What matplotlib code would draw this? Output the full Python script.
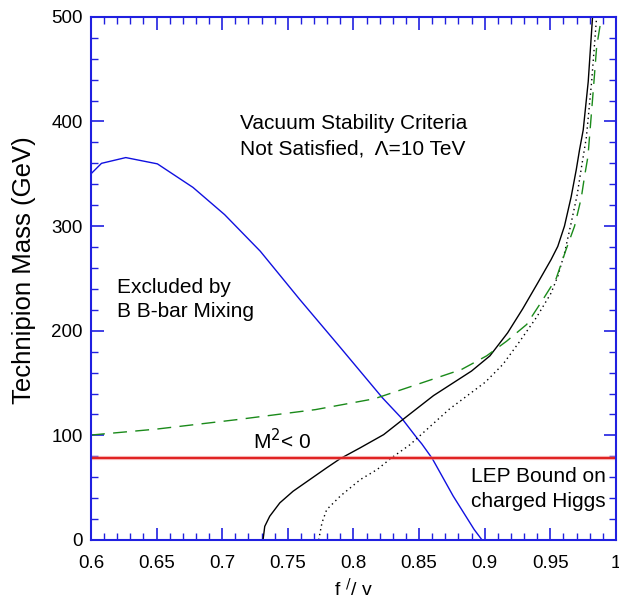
import numpy as np
import matplotlib
matplotlib.use('Agg')
import matplotlib.pyplot as plt
from matplotlib.ticker import MultipleLocator

plt.rcParams['font.family'] = ['Liberation Sans', 'DejaVu Sans']

# B B-bar mixing exclusion (blue)
bb_x = [0.600, 0.608, 0.6265, 0.6506, 0.6777, 0.7018, 0.729, 0.759, 0.790, 0.822,
        0.837, 0.849, 0.852, 0.860, 0.876, 0.892, 0.898, 0.908]
bb_y = [350, 360, 365.5, 359.5, 337, 311, 276, 230, 184, 136,
        116, 96.5, 92, 78, 42, 10, 0, 0]

# vacuum stability, solid black
vs_x = [0.7311, 0.7324, 0.7362, 0.7439, 0.754, 0.7668, 0.7796, 0.790, 0.805, 0.823,
        0.838, 0.861, 0.890, 0.904, 0.9175, 0.929, 0.9404, 0.9506, 0.9557, 0.9608,
        0.9659, 0.9698, 0.9723, 0.9751, 0.9789, 0.9822]
vs_y = [0, 13, 22.7, 35.5, 46.6, 57.8, 69, 77.8, 88, 100.7,
        115.5, 138, 161.5, 176, 198, 221, 245.6, 268, 280.6, 300,
        328, 354, 373, 392, 438, 500]

# vacuum stability, dotted black
vd_x = [0.7735, 0.776, 0.7796, 0.790, 0.8053, 0.818, 0.829, 0.843, 0.858, 0.873,
        0.9006, 0.914, 0.9268, 0.9396, 0.9506, 0.9557, 0.9608, 0.9659, 0.9705, 0.9736,
        0.9775, 0.9815, 0.9853]
vd_y = [0, 16.4, 29, 42, 57.8, 67.3, 78.5, 91, 108, 125,
        151, 168, 190, 213, 236, 252, 274, 303, 330, 355,
        385, 438, 500]

# M^2 < 0 boundary, green dashed
m2_x = [0.600, 0.650, 0.711, 0.771, 0.816, 0.846, 0.8824, 0.9015, 0.9167, 0.932,
        0.9443, 0.9545, 0.962, 0.9685, 0.9736, 0.9761, 0.9787, 0.9827, 0.9853, 0.989]
m2_y = [100.3, 106, 115, 124.6, 135, 147.6, 163, 176, 190, 206,
        229.7, 250, 277.5, 300, 327, 347.5, 366.6, 429, 471, 500]

lep_bound = 78.5

fig = plt.figure(figsize=(6.19, 6.02), dpi=100)
ax = fig.add_axes([0.147, 0.103, 0.848, 0.869])

ax.plot(bb_x, bb_y, color='#1010e0', lw=1.0)
ax.plot(vs_x, vs_y, color='black', lw=1.0)
ax.plot(vd_x, vd_y, color='black', lw=1.0, ls=(0, (1, 2.5)))
ax.plot(m2_x, m2_y, color='#1a8a1a', lw=1.0, ls=(0, (10, 6)))
ax.axhline(lep_bound, color='#f08080', lw=3.0, alpha=0.6)
ax.axhline(lep_bound, color='#e02020', lw=1.4)

ax.set_xlim(0.6, 1.0)
ax.set_ylim(0, 500)
ax.xaxis.set_minor_locator(MultipleLocator(0.01))
ax.yaxis.set_major_locator(MultipleLocator(100))
ax.yaxis.set_minor_locator(MultipleLocator(20))
ax.set_xticks(np.arange(0.6, 1.001, 0.05))
ax.set_xticklabels(['0.6', '0.65', '0.7', '0.75', '0.8', '0.85', '0.9', '0.95', '1'])

for s in ax.spines.values():
    s.set_color('#2020e0')
    s.set_linewidth(1.5)
ax.tick_params(which='both', direction='in', top=True, right=True, color='#2020e0',
               labelsize=13.5, labelcolor='black')
ax.tick_params(axis='x', pad=11)
ax.tick_params(axis='y', pad=6)
ax.tick_params(which='major', length=9, width=1.2)
ax.tick_params(which='minor', length=5, width=1.0)

ax.set_ylabel('Technipion Mass (GeV)', fontsize=18.5)
ax.yaxis.set_label_coords(-0.104, 0.516)
ax.set_xlabel("f $^{/}$/ v", fontsize=14, labelpad=4)

ax.text(0.7135, 393, 'Vacuum Stability Criteria', fontsize=15)
ax.text(0.7135, 368, 'Not Satisfied,  \u039b=10 TeV', fontsize=15)
ax.text(0.6198, 236, 'Excluded by', fontsize=15)
ax.text(0.6198, 213, 'B B-bar Mixing', fontsize=15)
ax.text(0.7235, 87, 'M$^2$< 0', fontsize=15)
ax.text(0.8898, 55, 'LEP Bound on', fontsize=15)
ax.text(0.8898, 32, 'charged Higgs', fontsize=15)

fig.savefig('out.png', dpi=100)
